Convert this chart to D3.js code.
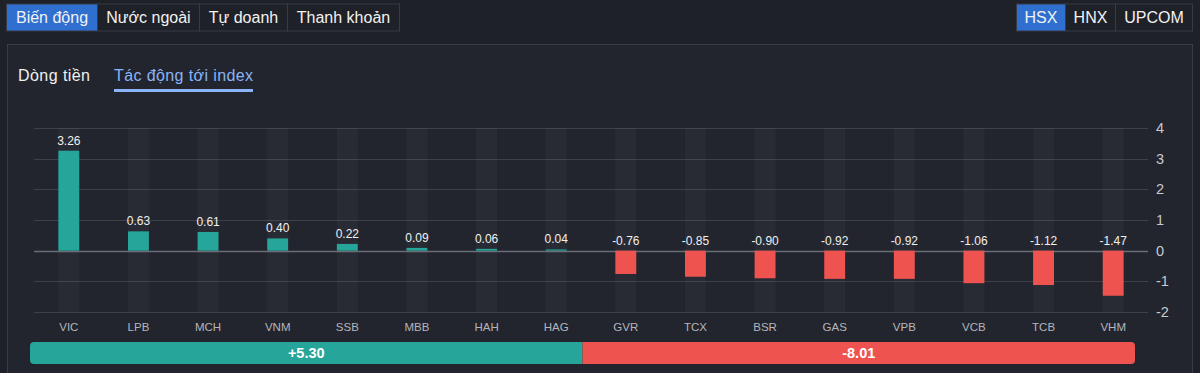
<!DOCTYPE html>
<html>
<head>
<meta charset="utf-8">
<script src="https://cdn.jsdelivr.net/npm/d3@7"></script>
<style>
  body { margin: 0; background: #1f2128; font-family: "Helvetica Neue", Arial, "Liberation Sans", sans-serif; overflow: hidden; }
</style>
</head>
<body>
<script>
// tickers & their impact on the index
var tickers = ["VIC","LPB","MCH","VNM","SSB","MBB","HAH","HAG","GVR","TCX","BSR","GAS","VPB","VCB","TCB","VHM"];
var impact = [3.26,0.63,0.61,0.40,0.22,0.09,0.06,0.04,-0.76,-0.85,-0.90,-0.92,-0.92,-1.06,-1.12,-1.47];
var yTicks = [-2,-1,0,1,2,3,4];
var mainTabs = ["Biến động","Nước ngoài","Tự doanh","Thanh khoản"];
var exchTabs = ["HSX","HNX","UPCOM"];
var subTabs = ["Dòng tiền","Tác động tới index"];
var totalUp = 5.30, totalDown = -8.01;

var W = 1200, H = 373;
var green = "#26a69a", red = "#ef5350";

// plain hyphen minus like the original
function fmt2(v){ return v.toFixed(2); }

var svg = d3.select("body").append("svg")
  .attr("width", W).attr("height", H);

svg.append("rect").attr("width", W).attr("height", H).attr("fill", "#1f2128");

// top tab groups
function tabGroup(labels, widths, x0, active){
  var x = x0;
  labels.forEach(function(l, i){
    var g = svg.append("g");
    g.append("rect").attr("x", x).attr("y", 4).attr("width", widths[i]).attr("height", 27)
      .attr("fill", i == active ? "#2f6fd0" : "#1f2128")
      .attr("stroke", "#383b44").attr("stroke-width", 1);
    g.append("text").attr("x", x + widths[i]/2).attr("y", 23)
      .attr("text-anchor", "middle").attr("fill", "#f2f2f2")
      .style("font-size", "16px").text(l);
    x += widths[i];
  });
}
tabGroup(mainTabs, [91,102,88,112], 6.5, 0);
tabGroup(exchTabs, [49,50,77], 1016.5, 0);

// panel
svg.append("rect").attr("x", 7.5).attr("y", 44.5).attr("width", 1185).attr("height", 340)
  .attr("fill", "#22252d").attr("stroke", "#3a3d46");

svg.append("text").attr("x", 18).attr("y", 81).attr("fill", "#f0f0f0")
  .style("font-size", "16px").attr("textLength", 72).text(subTabs[0]);
svg.append("text").attr("x", 114).attr("y", 81).attr("fill", "#8ab4f8")
  .style("font-size", "16px").attr("textLength", 139).text(subTabs[1]);
svg.append("rect").attr("x", 114).attr("y", 89).attr("width", 139).attr("height", 3)
  .attr("fill", "#8ab4f8");

// chart
var x = d3.scaleBand().domain(tickers).range([34, 1148]).paddingInner(0.7).paddingOuter(0.35);
var y = d3.scaleLinear().domain([-2, 4]).range([312, 128]);

var grid = svg.append("g");
grid.selectAll("line").data(yTicks).enter().append("line")
  .attr("x1", 34).attr("x2", 1148)
  .attr("y1", function(d){ return Math.round(y(d)) + 0.5; })
  .attr("y2", function(d){ return Math.round(y(d)) + 0.5; })
  .attr("stroke", function(d){ return d == 0 ? "#6a6d75" : "#3d4049"; })
  .attr("stroke-width", function(d){ return d == 0 ? 1.5 : 1; });

svg.append("g").selectAll("rect").data(tickers).enter().append("rect")
  .attr("x", function(d){ return x(d); })
  .attr("width", x.bandwidth())
  .attr("y", y(4)).attr("height", y(-2) - y(4))
  .attr("fill", "#ffffff").attr("opacity", 0.03);

var yAxis = svg.append("g").attr("transform", "translate(1156,0)")
  .call(d3.axisRight(y).tickValues(yTicks).tickSize(0).tickFormat(function(d){ return String(d); }));
yAxis.select(".domain").remove();
yAxis.selectAll("text").attr("fill", "#c8cad0").style("font-size", "14.5px")
  .attr("x", 0).attr("text-anchor", "start");

var data = tickers.map(function(t, i){ return {t: t, v: impact[i]}; });

svg.append("g").selectAll("rect").data(data).enter().append("rect")
  .attr("x", function(d){ return x(d.t); })
  .attr("width", x.bandwidth())
  .attr("y", function(d){ return y(Math.max(0, d.v)); })
  .attr("height", function(d){ return Math.abs(y(d.v) - y(0)); })
  .attr("fill", function(d){ return d.v >= 0 ? green : red; });

svg.append("g").selectAll("text").data(data).enter().append("text")
  .attr("x", function(d){ return x(d.t) + x.bandwidth()/2; })
  .attr("y", function(d){ return (d.v >= 0 ? y(d.v) : y(0)) - 6; })
  .attr("text-anchor", "middle").attr("fill", "#f0f0f0")
  .style("font-size", "12px")
  .text(function(d){ return fmt2(d.v); });

svg.append("g").selectAll("text").data(tickers).enter().append("text")
  .attr("x", function(d){ return x(d) + x.bandwidth()/2; })
  .attr("y", 331)
  .attr("text-anchor", "middle").attr("fill", "#b4b6bc")
  .style("font-size", "11.5px")
  .text(function(d){ return d; });

// summary bar: split by number of up / down tickers
var nUp = impact.filter(function(v){ return v > 0; }).length;
var sx = d3.scaleLinear().domain([0, tickers.length]).range([30, 1135]);
var split = sx(nUp);

svg.append("clipPath").attr("id", "sumclip").append("rect")
  .attr("x", 30).attr("y", 342).attr("width", 1105).attr("height", 22).attr("rx", 4);
var sum = svg.append("g").attr("clip-path", "url(#sumclip)");
sum.append("rect").attr("x", 30).attr("y", 342).attr("width", split - 30).attr("height", 22).attr("fill", green);
sum.append("rect").attr("x", split).attr("y", 342).attr("width", 1135 - split).attr("height", 22).attr("fill", red);

svg.append("text").attr("x", (30 + split)/2).attr("y", 358).attr("text-anchor", "middle")
  .attr("fill", "#fff").style("font-size", "14.5px").style("font-weight", "bold")
  .text("+" + fmt2(totalUp));
svg.append("text").attr("x", (split + 1135)/2).attr("y", 358).attr("text-anchor", "middle")
  .attr("fill", "#fff").style("font-size", "14.5px").style("font-weight", "bold")
  .text(fmt2(totalDown));
</script>
</body>
</html>
